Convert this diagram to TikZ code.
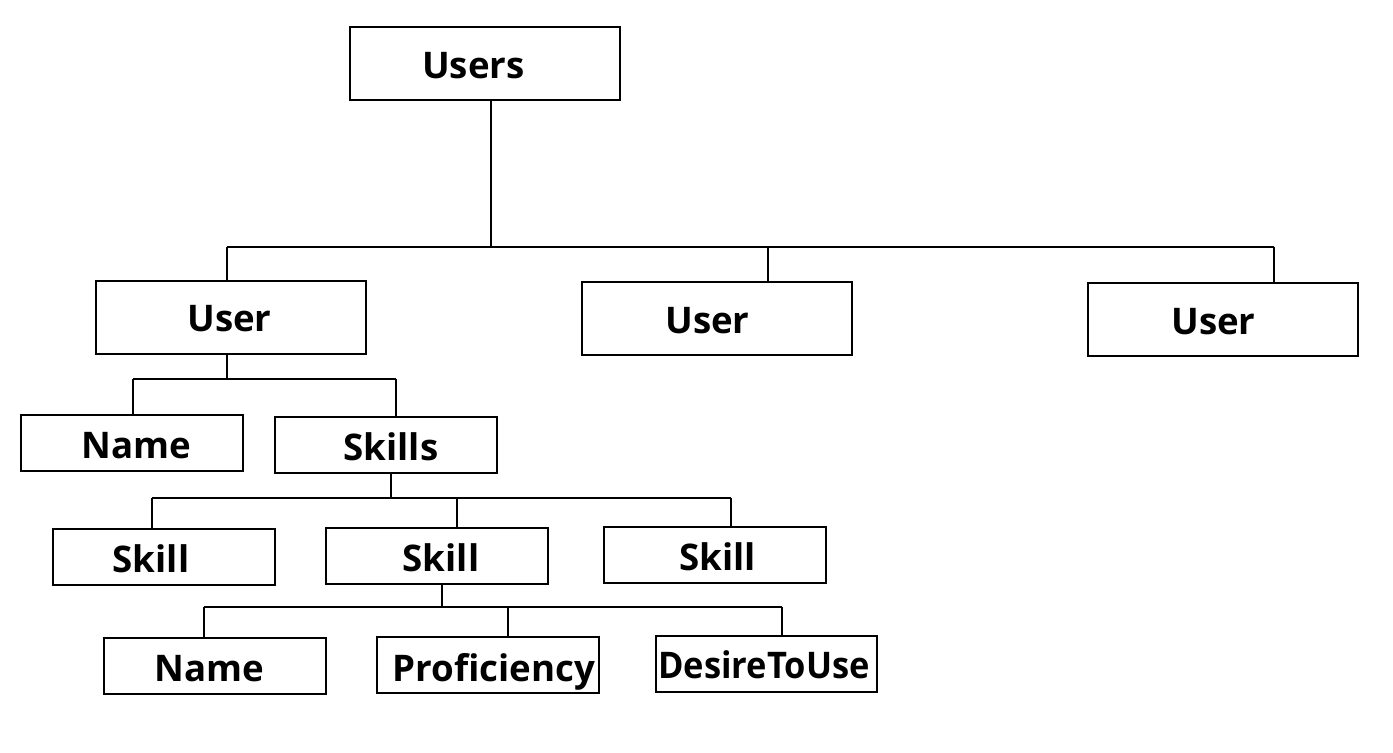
\documentclass[tikz,border=0pt]{standalone}
\usepackage{fontspec}
\setmainfont{Open Sans}
\newfontfamily\narrowsans[FakeStretch=0.94]{Open Sans}
\begin{document}
\begin{tikzpicture}[x=0.75pt,y=0.75pt,yscale=-1,xscale=1,
    bigbox/.style={draw,line width=0.9pt,inner sep=0pt,outer sep=0pt,minimum width=202.5pt,minimum height=54.75pt,text height=22.5pt,text depth=0pt,font=\fontsize{27.5}{30}\selectfont\bfseries},
    smallbox/.style={bigbox,minimum width=166.5pt,minimum height=42pt},
    nudge/.style={execute at begin node={\hspace*{#1}}},
    wire/.style={line width=0.9pt}]
    \useasboundingbox (0,0) rectangle (1393,753);
    % Boxes
    \node[bigbox,nudge=-17.25pt] (users) at (485,63.5) {Users};
    \node[bigbox,nudge=-2.25pt,text height=20.25pt] (userA) at (231,317.5) {User};
    \node[bigbox,nudge=-14.25pt] (userB) at (717,318.5) {User};
    \node[bigbox,nudge=-14.25pt] (userC) at (1223,319.5) {User};
    \node[smallbox,nudge=6.75pt] (name) at (132,443) {Name};
    \node[smallbox,nudge=7.5pt] (skills) at (386,445) {Skills};
    \node[smallbox,nudge=-19.5pt] (skillA) at (164,557) {Skill};
    \node[smallbox,nudge=6pt] (skillB) at (437,556) {Skill};
    \node[smallbox,nudge=3.75pt] (skillC) at (715,555) {Skill};
    \node[smallbox,nudge=-9pt] (sname) at (215,666) {Name};
    \node[smallbox,nudge=9pt,text height=25pt] (prof) at (488,665) {Proficiency};
    \node[smallbox,nudge=-3.75pt,minimum width=165.75pt,text height=21pt] (desire) at (766.5,664) {\narrowsans DesireToUse};
    % Users -> User
    \coordinate (j0) at (491,247);
    \coordinate (j0a) at (227,247);
    \coordinate (j0b) at (768,247);
    \coordinate (j0c) at (1274,247);
    \draw[wire] (users.south -| j0) -- (j0);
    \draw[wire] (j0a) -- (j0c);
    \draw[wire] (j0a) -- (j0a |- userA.north);
    \draw[wire] (j0b) -- (j0b |- userB.north);
    \draw[wire] (j0c) -- (j0c |- userC.north);
    % User -> Name, Skills
    \coordinate (j1) at (227,379);
    \coordinate (j1a) at (133,379);
    \coordinate (j1b) at (396,379);
    \draw[wire] (userA.south -| j1) -- (j1);
    \draw[wire] (j1a) -- (j1b);
    \draw[wire] (j1a) -- (j1a |- name.north);
    \draw[wire] (j1b) -- (j1b |- skills.north);
    % Skills -> Skill
    \coordinate (j2) at (391,498);
    \coordinate (j2a) at (152,498);
    \coordinate (j2b) at (457,498);
    \coordinate (j2c) at (731,498);
    \draw[wire] (skills.south -| j2) -- (j2);
    \draw[wire] (j2a) -- (j2c);
    \draw[wire] (j2a) -- (j2a |- skillA.north);
    \draw[wire] (j2b) -- (j2b |- skillB.north);
    \draw[wire] (j2c) -- (j2c |- skillC.north);
    % Skill -> Name, Proficiency, DesireToUse
    \coordinate (j3) at (442,607);
    \coordinate (j3a) at (204,607);
    \coordinate (j3b) at (508,607);
    \coordinate (j3c) at (782,607);
    \draw[wire] (skillB.south -| j3) -- (j3);
    \draw[wire] (j3a) -- (j3c);
    \draw[wire] (j3a) -- (j3a |- sname.north);
    \draw[wire] (j3b) -- (j3b |- prof.north);
    \draw[wire] (j3c) -- (j3c |- desire.north);
\end{tikzpicture}
\end{document}
